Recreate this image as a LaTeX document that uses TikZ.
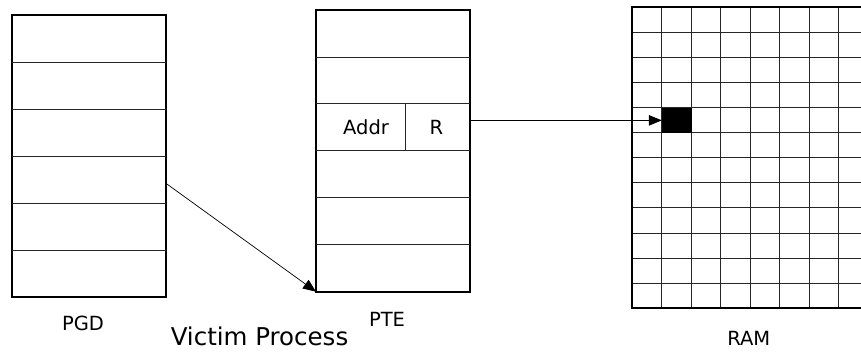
\documentclass[tikz,border=0pt]{standalone}
\usepackage{fontspec}
\setmainfont{DejaVu Sans}
\usetikzlibrary{arrows.meta,calc}
\begin{document}
\begin{tikzpicture}[x=1pt,y=-1pt,
  frame/.style={draw=black,line width=2.2pt,inner sep=0pt,outer sep=0pt},
  divider/.style={draw=black!85,line width=0.9pt},
  gridline/.style={draw=black!85,line width=0.9pt},
  link/.style={draw=black,line width=0.7pt,-{Triangle[length=13pt,width=10.5pt]}},
  lbl/.style={font=\fontsize{19.5}{22}\selectfont,inner sep=0pt},
  title/.style={font=\fontsize{24.5}{30}\selectfont,inner sep=0pt}]
\useasboundingbox (0,0) rectangle (861,354);

% ---- PGD table: six rows ----
\node[frame,minimum width=154pt,minimum height=282pt,anchor=north west] (pgd) at (12,15) {};
\foreach \k in {1,...,5}
  \draw[divider] ($(pgd.north west)+(0,{\k*47})$) -- ($(pgd.north east)+(0,{\k*47})$);
\node[lbl] (pgdlbl) at (83,323.5) {PGD};

% ---- PTE table: six rows, the third split into Addr | R ----
\node[frame,minimum width=154pt,minimum height=281.7pt,anchor=north west] (pte) at (316,10) {};
\foreach \k in {1,...,5}
  \draw[divider] ($(pte.north west)+(0,{\k*46.95})$) -- ($(pte.north east)+(0,{\k*46.95})$);
\draw[divider] (405.7,103.9) -- (405.7,150.85);
\node[lbl] (addr) at (366,127.7) {Addr};
\node[lbl] (rbit) at (436.3,127.7) {R};
\node[lbl] (ptelbl) at (387,319.7) {PTE};

\node[title] (victim) at (259.5,336) {Victim Process};

% ---- RAM: grid of frames running off the right edge ----
\def\cw{29.49}
\def\ch{25.08}
\foreach \k in {1,...,7}
  \draw[gridline] ({632.3+\k*\cw},7.3) -- ({632.3+\k*\cw},308.3);
\foreach \k in {1,...,11}
  \draw[gridline] (632.3,{7.3+\k*\ch}) -- (862,{7.3+\k*\ch});
\node[fill=black,inner sep=0pt,minimum width=29.5pt,minimum height=25.1pt,anchor=north west] (blk) at (661.8,107.6) {};
\draw[frame] (862,7.3) -| (632.3,308.3) -- (862,308.3);
\node[lbl] (ramlbl) at (748.8,338.3) {RAM};

% ---- connectors ----
\coordinate (pgdout) at ($(pgd.north east)!0.597!(pgd.south east)$);
\draw[link] (pgdout) -- (pte.south west);
\draw[link] (pte.east |- blk.west) -- (blk.west);
\end{tikzpicture}
\end{document}
